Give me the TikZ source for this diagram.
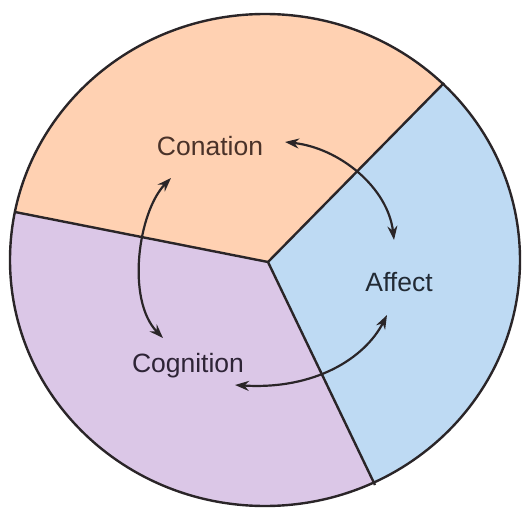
\documentclass[tikz,border=0pt]{standalone}
\usepackage{fontspec}
\setmainfont{Liberation Sans}
\usetikzlibrary{arrows.meta}
\definecolor{peach}{HTML}{FFD1B2}
\definecolor{lilac}{HTML}{DBC7E7}
\definecolor{skyb}{HTML}{BEDAF3}
\definecolor{edge}{HTML}{2A2528}
\definecolor{txtcon}{HTML}{4A3229}
\definecolor{txtcog}{HTML}{2E2436}
\definecolor{txtaff}{HTML}{222A34}
\tikzset{
  wedge/.style={draw=edge, line width=2.4pt, line join=round},
  lbl/.style={font=\fontsize{26.5}{30}\selectfont, inner sep=0pt},
  cyc/.style={draw=edge, line width=2.2pt, {Stealth[length=14pt,width=10pt]}-{Stealth[length=14pt,width=10pt]}}
}
\begin{document}
\begin{tikzpicture}[x=1pt,y=-1pt]
\useasboundingbox (0,0) rectangle (523,511);
\coordinate (C) at (268,262);
\coordinate (P1) at (444,83);
\coordinate (P2) at (375,485);
\coordinate (P3) at (15,212);
% wedges clipped to ellipse
\begin{scope}
\clip (265,260) ellipse [x radius=255, y radius=246];
\fill[peach] (C) -- (P1) -- (520,-40) -- (-40,-40) -- (-40,205) -- (P3) -- cycle;
\fill[skyb] (C) -- (P1) -- (560,40) -- (560,560) -- (380,560) -- (P2) -- cycle;
\fill[lilac] (C) -- (P2) -- (380,560) -- (-40,560) -- (-40,205) -- (P3) -- cycle;
\end{scope}
\draw[wedge] (P1) -- (C) -- (P2);
\draw[wedge] (C) -- (P3);
\draw[wedge] (265,260) ellipse [x radius=255, y radius=246];
% labels
\node[lbl, text=txtcon] (con) at (210,146) {Conation};
\node[lbl, text=txtaff] (aff) at (399,282) {Affect};
\node[lbl, text=txtcog] (cog) at (188,366) {Cognition};
% arrows
\coordinate (a1s) at (285,142);
\coordinate (a1e) at (394,240);
\coordinate (a2s) at (171,178);
\coordinate (a2e) at (163,338);
\coordinate (a3s) at (387,315);
\coordinate (a3e) at (235,385);
\draw[cyc] (a1s) .. controls (340,148) and (388,188) .. (a1e);
\draw[cyc] (a2s) .. controls (138,212) and (126,300) .. (a2e);
\draw[cyc] (a3s) .. controls (365,358) and (315,390) .. (a3e);
\end{tikzpicture}
\end{document}
